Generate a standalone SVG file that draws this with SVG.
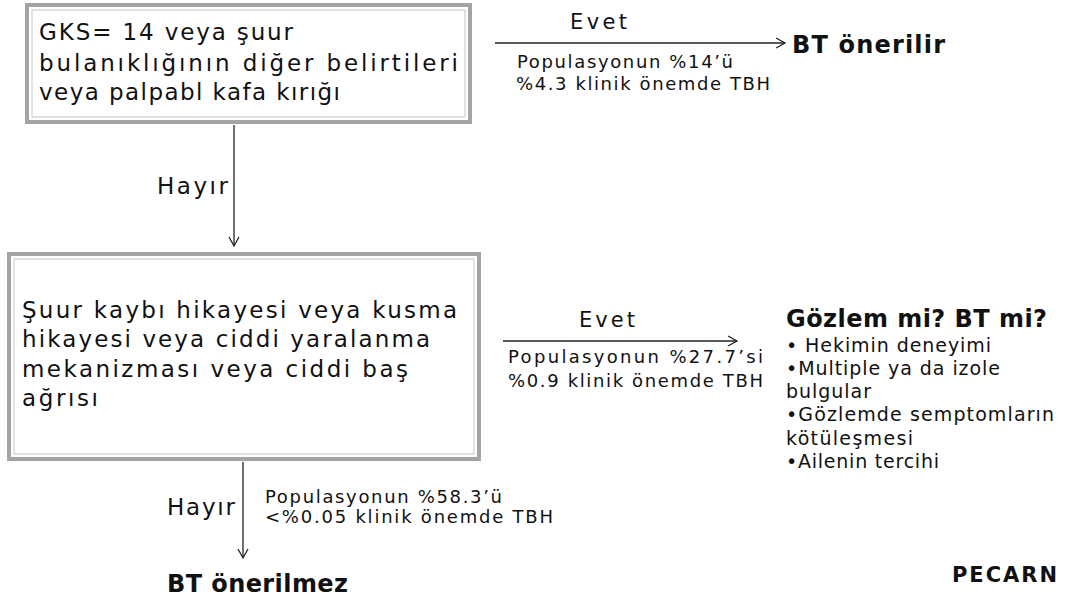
<svg xmlns="http://www.w3.org/2000/svg" width="1073" height="598" viewBox="0 0 1073 598">
<defs>
<marker id="arr" markerUnits="userSpaceOnUse" markerWidth="14" markerHeight="14" refX="10" refY="6" orient="auto">
<path d="M1,1 L10,6 L1,11" fill="none" stroke="#222" stroke-width="1.3"/>
</marker>
<style>
text{font-family:"DejaVu Sans","Liberation Sans",sans-serif;fill:#111}
.box{fill:#fff;stroke:#a4a4a4;stroke-width:4}
.inner{fill:none;stroke:#cfcfcf;stroke-width:1.2}
.bt{font-size:23px}
.lbl{font-size:21px}
.lblh{font-size:23px}
.sm{font-size:18px}
.bold{font-weight:bold}
.big{font-size:24px}
.bul{font-size:19px}
.conn line{stroke:#222;stroke-width:1.3;marker-end:url(#arr)}
</style>
</defs>
<rect width="1073" height="598" fill="#fff"/>
<g id="node-gks">
<rect class="box" x="27" y="5" width="443" height="117"/>
<rect class="inner" x="32" y="10" width="433" height="107"/>
<text class="bt" x="39" y="40" textLength="254" lengthAdjust="spacing">GKS= 14 veya şuur</text>
<text class="bt" x="39" y="71" textLength="419" lengthAdjust="spacing">bulanıklığının diğer belirtileri</text>
<text class="bt" x="39" y="100" textLength="301" lengthAdjust="spacing">veya palpabl kafa kırığı</text>
</g>
<g id="node-bt-onerilir">
<text class="big bold" x="792" y="53" textLength="153" lengthAdjust="spacing">BT önerilir</text>
</g>
<g id="node-suur">
<rect class="box" x="9" y="254" width="470" height="205"/>
<rect class="inner" x="14" y="259" width="460" height="195"/>
<text class="bt" x="22" y="318" textLength="435" lengthAdjust="spacing">Şuur kaybı hikayesi veya kusma</text>
<text class="bt" x="22" y="347" textLength="408" lengthAdjust="spacing">hikayesi veya ciddi yaralanma</text>
<text class="bt" x="22" y="377" textLength="386" lengthAdjust="spacing">mekanizması veya ciddi baş</text>
<text class="bt" x="22" y="406" textLength="76" lengthAdjust="spacing">ağrısı</text>
</g>
<g id="node-gozlem">
<text class="big bold" x="786" y="327" textLength="261" lengthAdjust="spacing">Gözlem mi? BT mi?</text>
<text class="bul" x="786" y="352" textLength="205" lengthAdjust="spacing">• Hekimin deneyimi</text>
<text class="bul" x="786" y="375" textLength="214" lengthAdjust="spacing">•Multiple ya da izole</text>
<text class="bul" x="786" y="398" textLength="85" lengthAdjust="spacing">bulgular</text>
<text class="bul" x="786" y="421" textLength="268" lengthAdjust="spacing">•Gözlemde semptomların</text>
<text class="bul" x="786" y="445" textLength="127" lengthAdjust="spacing">kötüleşmesi</text>
<text class="bul" x="786" y="468" textLength="153" lengthAdjust="spacing">•Ailenin tercihi</text>
</g>
<g id="node-bt-onerilmez">
<text class="big bold" x="167" y="592" textLength="181" lengthAdjust="spacing">BT önerilmez</text>
</g>
<g id="node-pecarn">
<text class="lbl bold" x="952" y="582" textLength="105" lengthAdjust="spacing">PECARN</text>
</g>
<g id="connectors" class="conn">
<line x1="495" y1="43" x2="785" y2="43"/>
<line x1="234" y1="125" x2="234" y2="246"/>
<line x1="503" y1="341" x2="737" y2="341"/>
<line x1="243" y1="462" x2="243" y2="558"/>
<text class="lbl" x="570" y="29" textLength="57" lengthAdjust="spacing">Evet</text>
<text class="sm" x="517" y="68" textLength="216" lengthAdjust="spacing">Populasyonun %14’ü</text>
<text class="sm" x="516" y="90" textLength="254" lengthAdjust="spacing">%4.3 klinik önemde TBH</text>
<text class="lblh" x="157" y="194" textLength="71" lengthAdjust="spacing">Hayır</text>
<text class="lbl" x="579" y="327" textLength="56" lengthAdjust="spacing">Evet</text>
<text class="sm" x="508" y="363" textLength="255" lengthAdjust="spacing">Populasyonun %27.7’si</text>
<text class="sm" x="508" y="387" textLength="255" lengthAdjust="spacing">%0.9 klinik önemde TBH</text>
<text class="lblh" x="167" y="515" textLength="68" lengthAdjust="spacing">Hayır</text>
<text class="sm" x="265" y="503" textLength="237" lengthAdjust="spacing">Populasyonun %58.3’ü</text>
<text class="sm" x="265" y="523" textLength="288" lengthAdjust="spacing">&lt;%0.05 klinik önemde TBH</text>
</g>
</svg>
